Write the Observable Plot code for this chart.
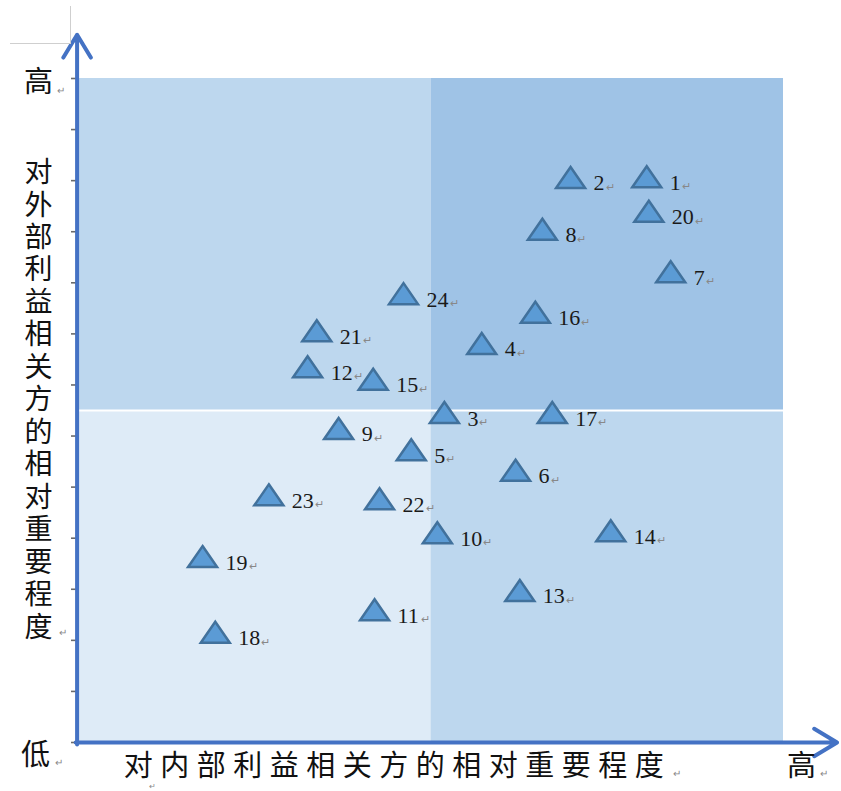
<!DOCTYPE html>
<html><head><meta charset="utf-8">
<script src="https://cdn.jsdelivr.net/npm/d3@7"></script>
<script src="https://cdn.jsdelivr.net/npm/@observablehq/plot@0.6"></script>
<style>
body{margin:0;background:#fff;}
#wrap{position:relative;width:841px;height:791px;overflow:hidden;}
.crop{position:absolute;background:#cfcfcf;}
</style></head><body><div id="wrap"></div>
<script>
// Stakeholder numbers and their positions (internal importance x, external importance y), scale 0–10
const labels = [1,2,3,4,5,6,7,8,9,10,11,12,13,14,15,16,17,18,19,20,21,22,23,24];
const xs = [8.06,6.98,5.19,5.72,4.72,6.20,8.40,6.58,3.69,5.09,4.20,3.25,6.26,7.55,4.18,6.48,6.72,1.94,1.76,8.09,3.38,4.27,2.70,4.61];
const ys = [8.52,8.51,4.97,6.01,4.41,4.10,7.09,7.73,4.73,3.16,2.00,5.66,2.29,3.19,5.47,6.48,4.97,1.66,2.80,8.00,6.20,3.67,3.73,6.76];

// Quadrants
const quadNames = ["左上","右上","左下","右下"];
const quadX1 = [0,5,0,5];
const quadX2 = [5,10,5,10];
const quadY1 = [5,5,0,0];
const quadY2 = [10,10,5,5];
const quadFill = ["#bdd7ee","#9fc3e6","#deebf7","#bdd7ee"];

const yTitle = "对外部利益相关方的相对重要程度";
const xTitle = "对内部利益相关方的相对重要程度";
const highLabel = "高";
const lowLabel = "低";
const mark = "↵";
const yTickCount = 13;

const points = labels.map((l, i) => ({label: String(l), x: xs[i], y: ys[i]}));
const quads = quadNames.map((n, i) => ({n, x1: quadX1[i], x2: quadX2[i], y1: quadY1[i], y2: quadY2[i], fill: quadFill[i]}));
const yTicks = d3.range(0, yTickCount + 1).map(i => i * 10 / yTickCount);

const flatTriangle = {
  draw(ctx) {
    ctx.moveTo(0, -10.5);
    ctx.lineTo(14.5, 10.5);
    ctx.lineTo(-14.5, 10.5);
    ctx.closePath();
  }
};

const cjk = "'Noto Sans CJK SC', sans-serif";
const serif = "'Liberation Serif', 'DejaVu Serif', serif";
const axisBlue = "#4472c4";
const big = {fontSize: 29, fontFamily: cjk, fill: "#111", textAnchor: "middle", lineAnchor: "middle"};
const small = {fontSize: 10, fill: "#888", textAnchor: "middle", lineAnchor: "middle"};

const chart = Plot.plot({
  width: 841,
  height: 791,
  marginLeft: 78,
  marginRight: 58,
  marginTop: 78,
  marginBottom: 49,
  x: {domain: [0, 10], axis: null},
  y: {domain: [0, 10], axis: null},
  style: {background: "transparent", overflow: "visible"},
  marks: [
    Plot.rect(quads, {x1: "x1", x2: "x2", y1: "y1", y2: "y2", fill: d => d.fill}),
    Plot.ruleY([5], {x1: 0, x2: 10, stroke: "white", strokeWidth: 2}),
    Plot.axisY(yTicks, {tickSize: 7, tickFormat: () => "", label: null, stroke: "#6a6a6a", strokeWidth: 1.6}),
    Plot.arrow([0], {x1: -0.02, y1: -0.03, x2: -0.02, y2: 10.66, stroke: axisBlue, strokeWidth: 4, headLength: 10, headAngle: 62}),
    Plot.arrow([0], {x1: -0.04, y1: 0, x2: 10.76, y2: 0, stroke: axisBlue, strokeWidth: 4, headLength: 10, headAngle: 62}),
    Plot.dot(points, {x: "x", y: "y", symbol: flatTriangle, fill: "#5b9bd5", stroke: "#41719c", strokeWidth: 2.5}),
    Plot.text(points, {x: "x", y: "y", text: "label", textAnchor: "start", dx: 23, dy: 6, fontSize: 22, fontFamily: serif, fill: "#1a1a1a"}),
    Plot.text(points.filter(d => d.label.length === 1), {x: "x", y: "y", text: () => mark, textAnchor: "start", dx: 35, dy: 10, fontSize: 11, fill: "#888"}),
    Plot.text(points.filter(d => d.label.length === 2), {x: "x", y: "y", text: () => mark, textAnchor: "start", dx: 46, dy: 10, fontSize: 11, fill: "#888"}),
    // axis end labels
    Plot.text([highLabel], {...big, frameAnchor: "top-left", dx: -40, dy: 4}),
    Plot.text([mark], {...small, frameAnchor: "top-left", dx: -18, dy: 12}),
    Plot.text([lowLabel], {...big, frameAnchor: "bottom-left", dx: -43, dy: 13}),
    Plot.text([mark], {...small, frameAnchor: "bottom-left", dx: -20, dy: 20}),
    Plot.text([highLabel], {...big, frameAnchor: "bottom-right", dx: 18, dy: 24}),
    Plot.text([mark], {...small, frameAnchor: "bottom-right", dx: 40, dy: 31}),
    // titles
    Plot.text([yTitle.split("").join("\n")], {...big, fontSize: 28, frameAnchor: "left", dx: -40, dy: -11.5, lineHeight: 1.16}),
    Plot.text([mark], {...small, frameAnchor: "left", dx: -16, dy: 222}),
    Plot.text([xTitle], {...big, frameAnchor: "bottom", dx: -33.5, dy: 24}),
    Plot.text([mark], {...small, frameAnchor: "bottom", dx: 246, dy: 31}),
    Plot.text([mark], {...small, fontSize: 8, frameAnchor: "bottom-left", dx: 74, dy: 44})
  ]
});

// letter spacing of the horizontal title
d3.select(chart).selectAll("text").filter(function() { return this.textContent === xTitle; })
  .attr("letter-spacing", 7.5);

const wrap = document.getElementById("wrap");
wrap.appendChild(chart);
const c1 = document.createElement("div");
c1.className = "crop";
c1.style.cssText = "left:70px;top:6px;width:1px;height:38px;";
const c2 = document.createElement("div");
c2.className = "crop";
c2.style.cssText = "left:10px;top:43px;width:61px;height:1px;";
wrap.appendChild(c1);
wrap.appendChild(c2);
</script>
</body></html>
